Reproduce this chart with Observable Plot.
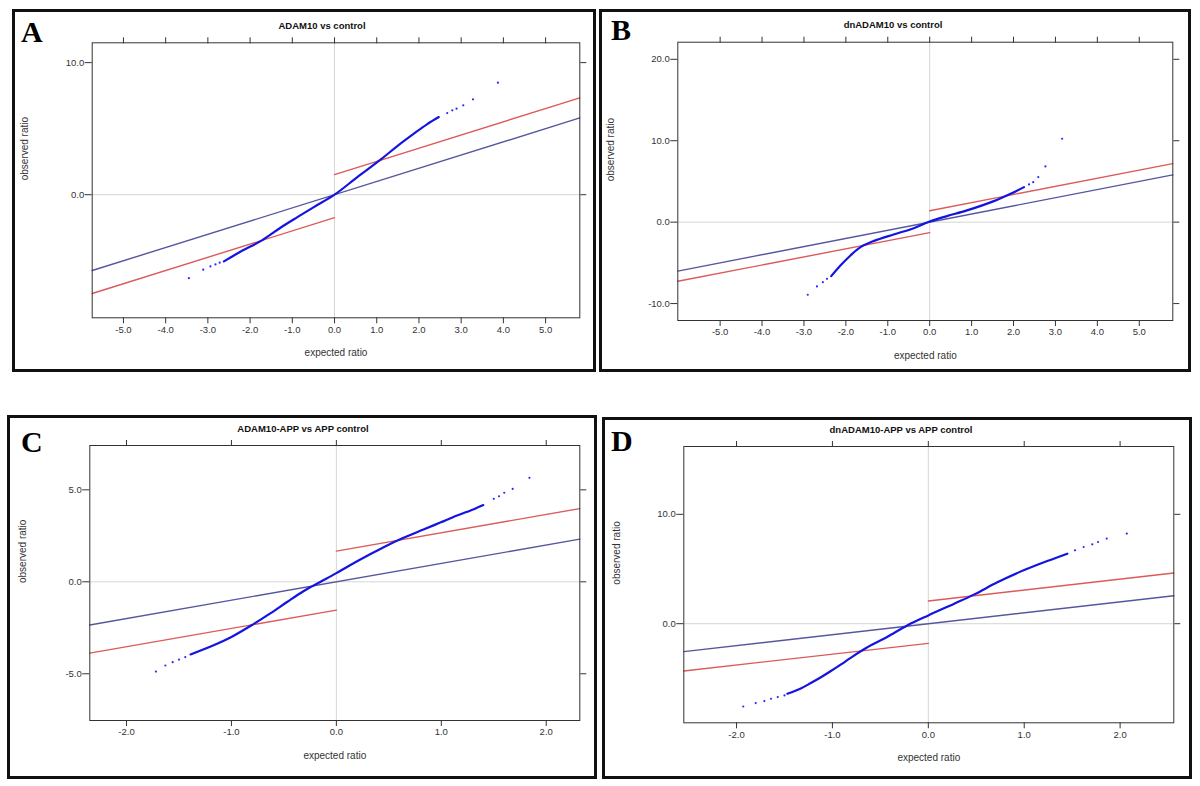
<!DOCTYPE html>
<html><head><meta charset="utf-8">
<script src="https://cdn.jsdelivr.net/npm/d3@7"></script>
<script src="https://cdn.jsdelivr.net/npm/@observablehq/plot@0.6"></script>
<style>
html,body{margin:0;padding:0;background:#fff;}
body{width:1200px;height:786px;position:relative;overflow:hidden;font-family:"Liberation Sans",Arial,sans-serif;}
.panel{position:absolute;border:3px solid #111;box-sizing:border-box;}
.letter{position:absolute;font-family:"Liberation Serif","Times New Roman",serif;font-weight:bold;font-size:30px;line-height:1;color:#000;}
.title{position:absolute;font-weight:bold;font-size:9.5px;line-height:1;transform:translateX(-50%);white-space:nowrap;color:#111;}
.chart{position:absolute;}
</style></head><body>
<script>
// ---------- data ----------
const panelLetters = ["A", "B", "C", "D"];
const panelTitles = ["ADAM10 vs control", "dnADAM10 vs control", "ADAM10-APP vs APP control", "dnADAM10-APP vs APP control"];
const xLabel = "expected ratio";
const yLabel = "observed ratio";

const xTicksWide = [-5, -4, -3, -2, -1, 0, 1, 2, 3, 4, 5];
const xTicksNarrow = [-2, -1, 0, 1, 2];
const yTicksA = [0, 10];
const yTicksB = [-10, 0, 10, 20];
const yTicksC = [-5, 0, 5];
const yTicksD = [0, 10];

const xDomainA = [-5.74, 5.81], yDomainA = [-9.32, 11.5];
const xDomainB = [-6.01, 5.80], yDomainB = [-12.08, 22.1];
const xDomainC = [-2.35, 2.32], yDomainC = [-7.54, 7.41];
const xDomainD = [-2.55, 2.56], yDomainD = [-9.06, 16.2];

// y = x reference lines (blue)
const diagA = [[-5.74, -5.74], [5.81, 5.81]];
const diagB = [[-6.01, -6.01], [5.80, 5.80]];
const diagC = [[-2.35, -2.35], [2.32, 2.32]];
const diagD = [[-2.55, -2.55], [2.56, 2.56]];

// delta cut-off lines (red)
const upperA = [[0, 1.52], [5.81, 7.33]], lowerA = [[-5.74, -7.48], [0, -1.74]];
const upperB = [[0, 1.40], [5.80, 7.18]], lowerB = [[-6.01, -7.26], [0, -1.29]];
const upperC = [[0, 1.67], [2.32, 3.98]], lowerC = [[-2.35, -3.88], [0, -1.54]];
const upperD = [[0, 2.08], [2.56, 4.63]], lowerD = [[-2.55, -4.32], [0, -1.80]];

// observed vs expected (dense part of the curve)
const curveA = [[-2.62,-5.05],[-2.23,-4.32],[-1.72,-3.46],[-1.28,-2.50],[-0.88,-1.70],[-0.49,-0.94],[0,0],[0.54,1.33],[1.09,2.65],[1.48,3.66],[1.88,4.62],[2.19,5.33],[2.47,5.88]];
const curveB = [[-2.35,-6.63],[-2.13,-5.32],[-1.89,-4.09],[-1.65,-3.07],[-1.34,-2.33],[-0.86,-1.51],[-0.38,-0.74],[0,0.08],[0.41,0.74],[0.89,1.44],[1.53,2.58],[1.93,3.48],[2.25,4.30]];
const curveC = [[-1.39,-3.95],[-1.17,-3.45],[-1.0,-3.0],[-0.79,-2.30],[-0.63,-1.72],[-0.47,-1.10],[-0.31,-0.50],[-0.15,0.0],[0,0.47],[0.13,0.90],[0.29,1.40],[0.45,1.88],[0.64,2.39],[0.83,2.84],[0.99,3.22],[1.15,3.60],[1.31,3.95],[1.40,4.17]];
const curveD = [[-1.47,-6.40],[-1.33,-5.92],[-1.23,-5.45],[-1.12,-4.90],[-1.02,-4.35],[-0.91,-3.72],[-0.81,-3.12],[-0.64,-2.18],[-0.43,-1.22],[-0.22,-0.16],[0,0.76],[0.27,1.83],[0.48,2.68],[0.72,3.78],[1.0,4.90],[1.24,5.73],[1.45,6.40]];

// observed vs expected (sparse tail genes)
const tailsA = [[-3.45,-6.32],[-3.11,-5.68],[-2.94,-5.43],[-2.82,-5.28],[-2.72,-5.15],[2.67,6.18],[2.79,6.39],[2.89,6.51],[3.05,6.77],[3.28,7.22],[3.87,8.48]];
const tailsB = [[-2.91,-8.92],[-2.69,-7.90],[-2.55,-7.37],[-2.45,-6.96],[2.37,4.63],[2.47,4.91],[2.59,5.53],[2.76,6.84],[3.16,10.24]];
const tailsC = [[-1.72,-4.88],[-1.63,-4.55],[-1.56,-4.37],[-1.50,-4.23],[-1.44,-4.09],[1.50,4.51],[1.55,4.65],[1.60,4.84],[1.68,5.05],[1.84,5.65]];
const tailsD = [[-1.93,-7.57],[-1.80,-7.26],[-1.71,-7.07],[-1.64,-6.86],[-1.57,-6.71],[-1.50,-6.56],[1.53,6.71],[1.62,7.01],[1.71,7.26],[1.77,7.47],[1.86,7.78],[2.07,8.24]];

// ---------- layout (page pixels) ----------
const layout = [
  {box:[12, 9, 596, 372],   frame:[91.7, 42.3, 579.3, 317.3],  letter:[21, 16.6],  title:[322, 21.3]},
  {box:[599, 9, 1191, 372], frame:[677.3, 41.7, 1172.3, 320],  letter:[611, 14.9], title:[893, 20.3]},
  {box:[7, 415, 597, 779],  frame:[89.3, 445, 579.3, 720],     letter:[21, 426.9], title:[303, 423.5]},
  {box:[602, 417, 1192, 779], frame:[683.3, 446, 1173.3, 722.3], letter:[611, 425.9], title:[901, 424.5]}
];

const panels = [
  {xDomain:xDomainA, yDomain:yDomainA, xTicks:xTicksWide,   yTicks:yTicksA, diag:diagA, upper:upperA, lower:lowerA, curve:curveA, tails:tailsA},
  {xDomain:xDomainB, yDomain:yDomainB, xTicks:xTicksWide,   yTicks:yTicksB, diag:diagB, upper:upperB, lower:lowerB, curve:curveB, tails:tailsB},
  {xDomain:xDomainC, yDomain:yDomainC, xTicks:xTicksNarrow, yTicks:yTicksC, diag:diagC, upper:upperC, lower:lowerC, curve:curveC, tails:tailsC},
  {xDomain:xDomainD, yDomain:yDomainD, xTicks:xTicksNarrow, yTicks:yTicksD, diag:diagD, upper:upperD, lower:lowerD, curve:curveD, tails:tailsD}
];

const fmt = d => d.toFixed(1);
const FONT = "'Liberation Sans', Arial, sans-serif";

panels.forEach((p, i) => {
  const L = layout[i];
  const [bx0, by0, bx1, by1] = L.box;
  const [fl, ft, fr, fb] = L.frame;

  const box = document.createElement("div");
  box.className = "panel";
  Object.assign(box.style, {left: bx0 + "px", top: by0 + "px", width: (bx1 - bx0) + "px", height: (by1 - by0) + "px"});
  document.body.appendChild(box);

  const sx = bx0 + 3, sy = by0 + 3, w = bx1 - bx0 - 6, h = by1 - by0 - 6;
  const chart = Plot.plot({
    width: w, height: h,
    marginLeft: fl - sx, marginTop: ft - sy, marginRight: sx + w - fr, marginBottom: sy + h - fb,
    x: {domain: p.xDomain},
    y: {domain: p.yDomain},
    style: {fontFamily: FONT, fontSize: "9.5px", color: "#333", background: "transparent", overflow: "visible"},
    marks: [
      Plot.ruleX([0], {stroke: "#d6d6d6", strokeWidth: 1}),
      Plot.ruleY([0], {stroke: "#d6d6d6", strokeWidth: 1}),
      Plot.line(p.diag, {stroke: "#5656a0", strokeWidth: 1.4}),
      Plot.line(p.upper, {stroke: "#dc5a5a", strokeWidth: 1.4}),
      Plot.line(p.lower, {stroke: "#dc5a5a", strokeWidth: 1.4}),
      Plot.line(p.curve, {curve: "catmull-rom", stroke: "#1414e0", strokeWidth: 2.2}),
      Plot.dot(p.tails, {r: 1.1, fill: "#2a2aff", stroke: null}),
      Plot.frame({stroke: "#333"}),
      Plot.axisX({anchor: "bottom", ticks: p.xTicks, tickFormat: fmt, tickSize: 6, tickPadding: 2, label: null}),
      Plot.axisX({anchor: "top", ticks: p.xTicks, tickSize: 6, fill: "none", label: null}),
      Plot.axisY({anchor: "left", ticks: p.yTicks, tickFormat: fmt, tickSize: 7, tickPadding: 1, label: null}),
      Plot.axisY({anchor: "right", ticks: p.yTicks, tickSize: 6, fill: "none", label: null}),
      Plot.text([xLabel], {text: d => d, frameAnchor: "bottom", dy: 38, fontSize: 10, fill: "#333"}),
      Plot.text([yLabel], {text: d => d, frameAnchor: "left", dx: -67, rotate: -90, fontSize: 10, fill: "#333"})
    ]
  });
  chart.classList.add("chart");
  chart.style.left = sx + "px";
  chart.style.top = sy + "px";
  document.body.appendChild(chart);

  const letter = document.createElement("div");
  letter.className = "letter";
  letter.textContent = panelLetters[i];
  letter.style.left = L.letter[0] + "px";
  letter.style.top = L.letter[1] + "px";
  document.body.appendChild(letter);

  const title = document.createElement("div");
  title.className = "title";
  title.textContent = panelTitles[i];
  title.style.left = L.title[0] + "px";
  title.style.top = L.title[1] + "px";
  document.body.appendChild(title);
});
</script>
</body></html>
